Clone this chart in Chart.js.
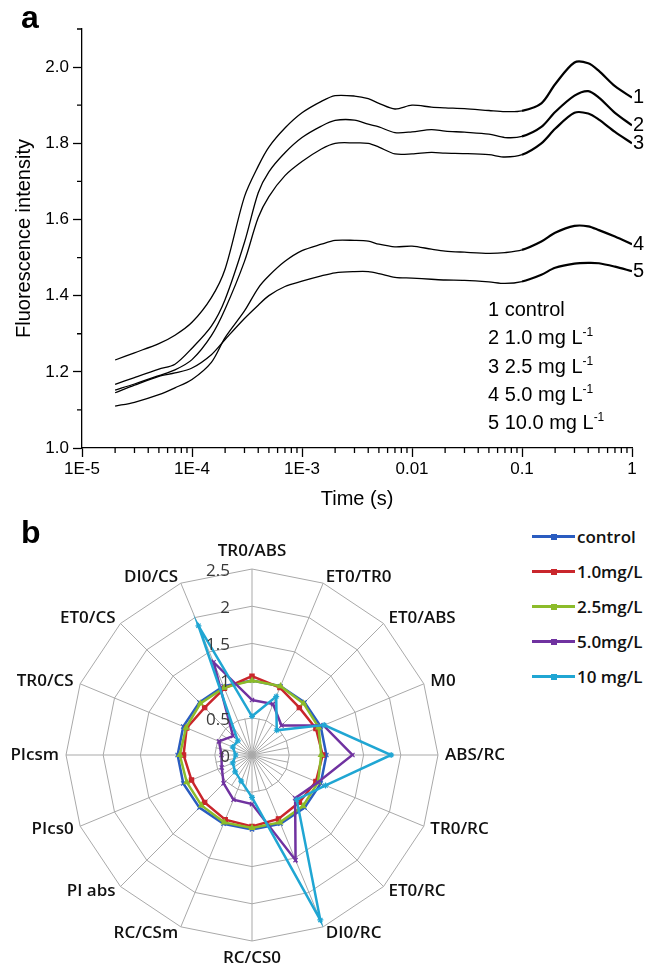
<!DOCTYPE html>
<html>
<head>
<meta charset="utf-8">
<script src="https://cdn.jsdelivr.net/npm/chart.js@4.4.1/dist/chart.umd.min.js"></script>
<style>
  body { margin: 0; background: #fff; }
  #pagina { position: relative; width: 659px; height: 971px; overflow: hidden; background: #fff; }
  canvas { position: absolute; }
  .painel { position: absolute; font: bold 32px "Liberation Sans", Arial, sans-serif; line-height: 32px; color: #000; }
  #notaA { position: absolute; left: 488px; top: 295px; font: 20px "Liberation Sans", Arial, sans-serif; line-height: 28.3px; color: #000; white-space: nowrap; }
  #notaA sup { font-size: 12px; line-height: 0; vertical-align: 8px; }
  #legendaB { position: absolute; left: 532px; top: 519px; font: 600 17px "Open Sans", sans-serif; color: #111; }
  .item { display: flex; align-items: center; height: 35px; white-space: nowrap; }
  .traco { position: relative; width: 43px; height: 3px; margin-right: 2px; }
  .marca { position: absolute; left: 19px; top: -1.5px; width: 6px; height: 6px; }
</style>
</head>
<body>
<div id="pagina">
  <canvas id="grafico1" width="659" height="515" style="left:0;top:0"></canvas>
  <canvas id="grafico2" width="520" height="461" style="left:0;top:510px"></canvas>
  <div class="painel" style="left:21px;top:1px">a</div>
  <div class="painel" style="left:21px;top:516px">b</div>
  <div id="notaA"></div>
  <div id="legendaB"></div>
</div>
<script>
// Painel a - curvas OJIP (tempo em escala log)
var tempos = [2e-5, 3e-5, 5e-5, 7e-5, 1e-4, 1.5e-4, 2e-4, 3e-4, 4e-4, 5e-4, 7e-4, 1e-3, 1.5e-3, 2e-3, 3e-3, 4e-3,
              5e-3, 7e-3, 1e-2, 1.5e-2, 2e-2, 3e-2, 5e-2, 7e-2, 0.1, 0.15, 0.2, 0.3, 0.4, 0.5, 0.7, 1];
var curva1 = [1.231, 1.25, 1.274, 1.296, 1.33, 1.395, 1.47, 1.66, 1.74, 1.79, 1.84, 1.88, 1.91, 1.925, 1.924, 1.917,
              1.905, 1.89, 1.90, 1.895, 1.893, 1.891, 1.886, 1.883, 1.885, 1.905, 1.955, 2.012, 2.01, 1.99, 1.95, 1.92];
var curva2 = [1.167, 1.185, 1.207, 1.22, 1.262, 1.32, 1.39, 1.54, 1.67, 1.725, 1.775, 1.815, 1.845, 1.86, 1.861, 1.85,
              1.843, 1.828, 1.83, 1.836, 1.832, 1.829, 1.824, 1.815, 1.818, 1.843, 1.882, 1.925, 1.937, 1.92, 1.88, 1.847];
var curva3 = [1.152, 1.168, 1.19, 1.205, 1.232, 1.295, 1.365, 1.49, 1.605, 1.66, 1.715, 1.752, 1.785, 1.80, 1.801, 1.80,
              1.79, 1.772, 1.772, 1.776, 1.774, 1.773, 1.77, 1.764, 1.77, 1.80, 1.838, 1.88, 1.878, 1.862, 1.83, 1.80];
var curva4 = [1.11, 1.12, 1.14, 1.158, 1.18, 1.225, 1.29, 1.36, 1.42, 1.452, 1.49, 1.518, 1.535, 1.545, 1.545, 1.543,
              1.535, 1.528, 1.53, 1.522, 1.517, 1.514, 1.511, 1.513, 1.52, 1.542, 1.565, 1.583, 1.582, 1.572, 1.555, 1.535];
var curva5 = [1.145, 1.165, 1.188, 1.197, 1.21, 1.245, 1.285, 1.34, 1.375, 1.40, 1.424, 1.438, 1.452, 1.46, 1.463, 1.463,
              1.458, 1.448, 1.446, 1.443, 1.441, 1.44, 1.436, 1.432, 1.437, 1.455, 1.473, 1.484, 1.486, 1.485, 1.476, 1.464];
var numerosCurvas = ['1', '2', '3', '4', '5'];
var dosesCurvas = ['control', '1.0', '2.5', '5.0', '10.0'];
var ticksTempo = [1e-5, 1e-4, 1e-3, 0.01, 0.1, 1];
var rotulosTempo = ['1E-5', '1E-4', '1E-3', '0.01', '0.1', '1'];
var ticksIntensidade = [1.0, 1.2, 1.4, 1.6, 1.8, 2.0];
var ticksIntensidadeMenores = [1.1, 1.3, 1.5, 1.7, 1.9, 2.1];

// Painel b - radar dos parâmetros JIP
var parametros = ['TR0/ABS', 'ET0/TR0', 'ET0/ABS', 'M0', 'ABS/RC', 'TR0/RC', 'ET0/RC', 'DI0/RC',
                  'RC/CS0', 'RC/CSm', 'PI abs', 'PIcs0', 'PIcsm', 'TR0/CS', 'ET0/CS', 'DI0/CS'];
var radarControl = [1, 1, 1, 1, 1, 1, 1, 1, 1, 1, 1, 1, 1, 1, 1, 1];
var radar1mg  = [1.06, 0.98, 0.9, 0.93, 0.95, 0.93, 0.9, 0.93, 0.96, 0.94, 0.9, 0.88, 0.92, 0.95, 0.9, 0.97];
var radar25mg = [1.0, 1.0, 0.98, 0.97, 0.93, 0.96, 0.97, 0.98, 0.98, 0.98, 0.96, 0.95, 0.97, 0.96, 0.98, 0.98];
var radar5mg  = [0.74, 0.74, 0.56, 1.04, 1.35, 0.96, 0.82, 1.53, 0.66, 0.65, 0.54, 0.44, 0.41, 0.48, 0.36, 1.35];
var radar10mg = [0.52, 0.85, 0.47, 1.05, 1.87, 1.07, 0.85, 2.4, 0.57, 0.38, 0.32, 0.28, 0.22, 0.28, 0.27, 1.88];
var nomesRadar = ['control', '1.0mg/L', '2.5mg/L', '5.0mg/L', '10 mg/L'];
var coresRadar = ['#2a5cc0', '#c9262c', '#8cbc2a', '#7032a0', '#20a6d3'];
var marcadoresRadar = ['crossRot', 'rect', 'triangle', 'crossRot', 'star'];
var ticksRadar = [0, 0.5, 1, 1.5, 2, 2.5];
var rotulosRadar = ['0', '0.5', '1', '1.5', '2', '2.5'];

var fonteA = '"Liberation Sans", Arial, sans-serif';
var fonteB = '"Open Sans", sans-serif';

// nota com as concentrações
document.getElementById('notaA').innerHTML = dosesCurvas.map(function (d, i) {
    return i === 0 ? numerosCurvas[i] + ' ' + d : numerosCurvas[i] + ' ' + d + ' mg L<sup>-1</sup>';
}).join('<br>');

// marcas menores e números no fim das curvas
var marcasA = {
    id: 'marcasA',
    afterDraw: function (chart) {
        var ctx = chart.ctx, x = chart.scales.x, y = chart.scales.y;
        ctx.save();
        ctx.strokeStyle = '#000';
        ctx.lineWidth = 1.3;
        ctx.beginPath();
        for (var d = -5; d < 0; d++) {
            for (var k = 2; k <= 9; k++) {
                var px = x.getPixelForValue(k * Math.pow(10, d));
                ctx.moveTo(px, y.bottom);
                ctx.lineTo(px, y.bottom + 5);
            }
        }
        ticksIntensidadeMenores.forEach(function (v) {
            var py = y.getPixelForValue(v);
            ctx.moveTo(x.left - 5, py);
            ctx.lineTo(x.left, py);
        });
        ctx.stroke();
        ctx.fillStyle = '#000';
        ctx.font = '20px ' + fonteA;
        ctx.textAlign = 'left';
        ctx.textBaseline = 'middle';
        chart.data.datasets.forEach(function (ds, i) {
            var pts = chart.getDatasetMeta(i).data;
            var ult = pts[pts.length - 1];
            ctx.fillText(numerosCurvas[i], ult.x + 1, ult.y);
        });
        ctx.restore();
    }
};

var curvas = [curva1, curva2, curva3, curva4, curva5];
new Chart(document.getElementById('grafico1'), {
    type: 'line',
    data: {
        datasets: curvas.map(function (c, i) {
            return {
                label: numerosCurvas[i],
                data: tempos.map(function (t, j) { return {x: t, y: c[j]}; }),
                borderColor: '#000',
                borderWidth: 1.3,
                pointRadius: 0,
                tension: 0.3,
                segment: {
                    borderWidth: function (s) { return s.p0.parsed.x >= 0.1 ? 2.2 : 1.3; }
                }
            };
        })
    },
    options: {
        responsive: false,
        animation: false,
        layout: {padding: {top: 29, right: 27, left: 0, bottom: 0}},
        plugins: {legend: {display: false}, tooltip: {enabled: false}},
        scales: {
            x: {
                type: 'logarithmic',
                min: 1e-5,
                max: 1,
                afterBuildTicks: function (s) { s.ticks = ticksTempo.map(function (v) { return {value: v}; }); },
                afterFit: function (s) { s.height = 67; },
                ticks: {
                    autoSkip: false, maxRotation: 0, padding: 2, color: '#000',
                    font: {family: fonteA, size: 17},
                    callback: function (v, i) { return rotulosTempo[i]; }
                },
                grid: {drawOnChartArea: false, tickLength: 9, tickColor: '#000', tickWidth: 1.3},
                border: {display: true, color: '#000', width: 1.3},
                title: {display: true, text: 'Time (s)', color: '#000', font: {family: fonteA, size: 20}, padding: {top: 0, bottom: 4}}
            },
            y: {
                min: 1.0,
                max: 2.1,
                afterBuildTicks: function (s) { s.ticks = ticksIntensidade.map(function (v) { return {value: v}; }); },
                afterFit: function (s) { s.width = 82; },
                ticks: {
                    padding: 4, color: '#000',
                    font: {family: fonteA, size: 17},
                    callback: function (v) { return Number(v).toFixed(1); }
                },
                grid: {drawOnChartArea: false, tickLength: 9, tickColor: '#000', tickWidth: 1.3},
                border: {display: true, color: '#000', width: 1.3},
                title: {display: true, text: 'Fluorescence intensity', color: '#000', font: {family: fonteA, size: 20}, padding: {top: 12, bottom: 0}}
            }
        }
    },
    plugins: [marcasA]
});

// texto do radar: raios internos, valores da escala e nomes dos parâmetros
var textoRadar = {
    id: 'textoRadar',
    beforeDatasetsDraw: function (chart) {
        var r = chart.scales.r, ctx = chart.ctx;
        var interno = r.getDistanceFromCenterForValue(ticksRadar[1]);
        ctx.save();
        ctx.strokeStyle = '#a9a9a9';
        ctx.lineWidth = 1;
        ctx.beginPath();
        for (var i = 0; i < parametros.length; i++) {
            var p = r.getPointPosition(i + 0.5, interno);
            ctx.moveTo(r.xCenter, r.yCenter);
            ctx.lineTo(p.x, p.y);
        }
        ctx.stroke();
        ctx.restore();
    },
    afterDatasetsDraw: function (chart) {
        var r = chart.scales.r, ctx = chart.ctx;
        ctx.save();
        ctx.font = '17px ' + fonteB;
        ctx.fillStyle = '#3a3a3a';
        ctx.textAlign = 'right';
        ctx.textBaseline = 'middle';
        ticksRadar.forEach(function (v, i) {
            ctx.fillText(rotulosRadar[i], r.xCenter - 22, r.yCenter - r.getDistanceFromCenterForValue(v) + 2);
        });
        ctx.font = '600 17px ' + fonteB;
        ctx.fillStyle = '#111';
        var n = chart.data.labels.length;
        chart.data.labels.forEach(function (lab, i) {
            var ang = i * 360 / n;
            var p;
            if (ang === 0) {
                p = r.getPointPosition(i, r.drawingArea + 9);
                ctx.textAlign = 'center'; ctx.textBaseline = 'bottom';
            } else if (ang === 180) {
                p = r.getPointPosition(i, r.drawingArea + 9);
                ctx.textAlign = 'center'; ctx.textBaseline = 'top';
            } else {
                p = r.getPointPosition(i, r.drawingArea + 7);
                ctx.textAlign = ang < 180 ? 'left' : 'right'; ctx.textBaseline = 'middle';
            }
            ctx.fillText(lab, p.x, p.y);
        });
        ctx.restore();
    }
};

var seriesRadar = [radarControl, radar1mg, radar25mg, radar5mg, radar10mg];
new Chart(document.getElementById('grafico2'), {
    type: 'radar',
    data: {
        labels: parametros,
        datasets: seriesRadar.map(function (s, i) {
            return {
                label: nomesRadar[i],
                data: s,
                borderColor: coresRadar[i],
                backgroundColor: coresRadar[i],
                pointBackgroundColor: coresRadar[i],
                pointBorderColor: coresRadar[i],
                pointStyle: marcadoresRadar[i],
                pointRadius: 3,
                pointBorderWidth: 1.2,
                borderWidth: 2.5,
                fill: false,
                order: 5 - i
            };
        })
    },
    options: {
        responsive: false,
        animation: false,
        layout: {padding: {left: 66, top: 59, right: 82, bottom: 30}},
        plugins: {legend: {display: false}, tooltip: {enabled: false}},
        elements: {line: {tension: 0}},
        scales: {
            r: {
                min: 0,
                max: 2.5,
                afterBuildTicks: function (s) { s.ticks = ticksRadar.map(function (v) { return {value: v}; }); },
                ticks: {display: false},
                pointLabels: {display: false},
                grid: {color: '#a9a9a9', lineWidth: 1},
                angleLines: {color: '#a9a9a9', lineWidth: 1}
            }
        }
    },
    plugins: [textoRadar]
});

// legenda do radar
document.getElementById('legendaB').innerHTML = nomesRadar.map(function (nome, i) {
    return '<div class="item"><div class="traco" style="background:' + coresRadar[i] + '">' +
        '<div class="marca" style="background:' + coresRadar[i] + '"></div></div>' + nome + '</div>';
}).join('');
</script>
</body>
</html>
